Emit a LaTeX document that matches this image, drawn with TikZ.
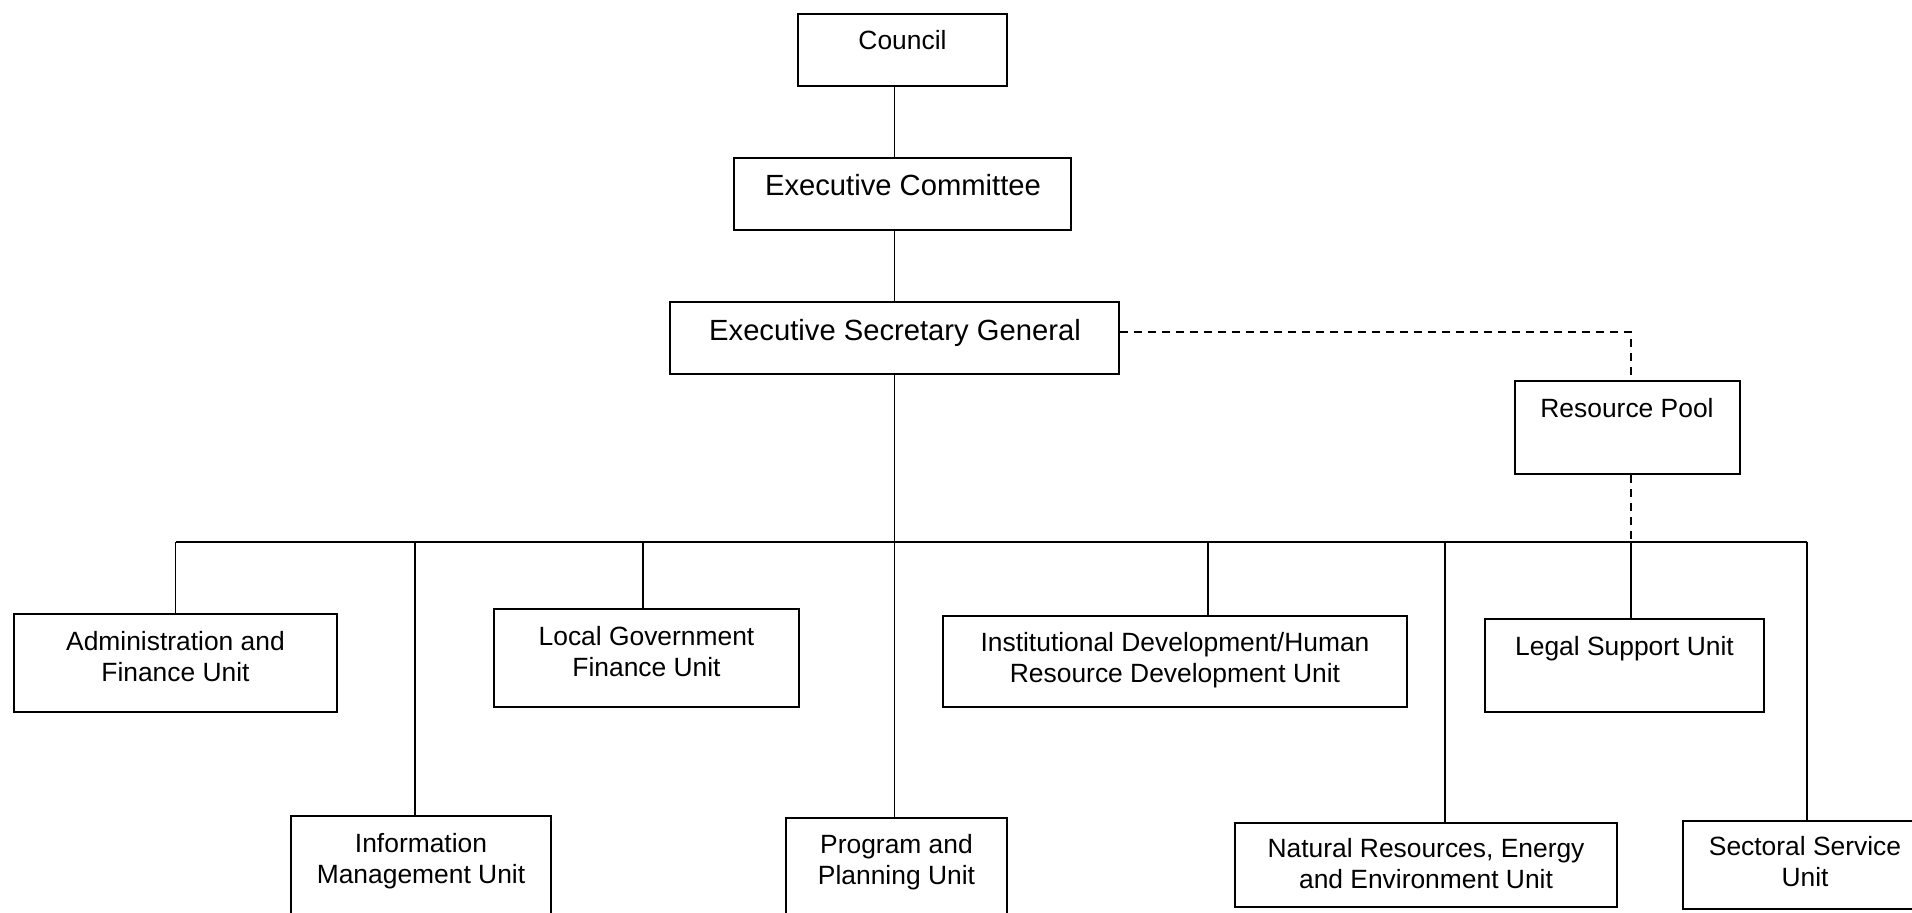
\documentclass[tikz,border=0pt]{standalone}
\usepackage{fontspec}
\setmainfont{Liberation Sans}
\newcommand{\orgunitfont}{\fontsize{13.2pt}{15.5pt}\selectfont}
\newcommand{\orgbigfont}{\fontsize{14.6pt}{17pt}\selectfont}
\newcommand{\twoline}[1]{\begin{tabular}[t]{@{}c@{}}#1\end{tabular}}
\newcommand{\orgbox}[5]{\node[box, minimum width={(#4-#2)*0.5pt}, minimum height={(#5-#3)*0.5pt}] (#1) at ({(#2+#4)/2},{(#3+#5)/2}) {};}
\begin{document}
\begin{tikzpicture}[x=0.5pt,y=-0.5pt,
  box/.style={draw, rectangle, line width=1.1pt, inner sep=0pt},
  lbl/.style={anchor=base, inner sep=0pt, font=\orgunitfont},
  conn/.style={line width=0.95pt},
  drop/.style={line width=0.9pt},
  dashline/.style={line width=1pt, dash pattern=on 4pt off 3pt}]
\useasboundingbox (0,0) rectangle (1912,912);
\fill[white] (0,0) rectangle (1912,912);
\clip (0,0) rectangle (1912,912);
% boxes
\orgbox{council}{798}{14}{1007}{86}
\orgbox{ec}{734}{158}{1071}{230}
\orgbox{esg}{670}{302}{1119}{374}
\orgbox{rp}{1515}{381}{1740}{474}
\orgbox{admin}{14}{614}{337}{712}
\orgbox{lgf}{494}{609}{799}{707}
\orgbox{id}{943}{616}{1407}{707}
\orgbox{legal}{1485}{619}{1764}{712}
\orgbox{info}{291}{816}{551}{935}
\orgbox{program}{786}{818}{1007}{935}
\orgbox{nr}{1235}{823}{1617}{907}
\orgbox{sectoral}{1683}{821}{1931}{909}
% labels
\node[lbl] (council-t) at (902.5,49) {Council};
\node[lbl,font=\orgbigfont] (ec-t) at (903,195) {Executive Committee};
\node[lbl,font=\orgbigfont] (esg-t) at (895,340) {Executive Secretary General};
\node[lbl] (rp-t) at (1627,417) {Resource Pool};
\node[lbl] (admin-t) at (175.5,650) {\twoline{Administration and\\Finance Unit}};
\node[lbl] (lgf-t) at (646.5,645) {\twoline{Local Government\\Finance Unit}};
\node[lbl] (id-t) at (1175,651) {\twoline{Institutional Development/Human\\Resource Development Unit}};
\node[lbl] (legal-t) at (1624.5,655) {Legal Support Unit};
\node[lbl] (info-t) at (421,852) {\twoline{Information\\Management Unit}};
\node[lbl] (program-t) at (896.5,853) {\twoline{Program and\\Planning Unit}};
\node[lbl] (nr-t) at (1426,857) {\twoline{Natural Resources, Energy\\and Environment Unit}};
\node[lbl] (sectoral-t) at (1805,855) {\twoline{Sectoral Service\\Unit}};
% connector points
\coordinate (busL) at (175.5,542);
\coordinate (busR) at (1807,542);
\coordinate (dInfo) at (415,542);
\coordinate (dLGF) at (643,542);
\coordinate (dID) at (1208,542);
\coordinate (dNR) at (1445,542);
\coordinate (dLegal) at (1631,542);
\coordinate (turn) at (1631,332);
% connectors
\draw[conn] (esg.north |- council.south) -- (esg.north |- ec.north);
\draw[conn] (esg.north |- ec.south) -- (esg.north);
\draw[conn] (esg.south) -- (esg.south |- program.north);
\draw[conn] (busL) -- (busR);
\draw[drop] (busL) -- (admin.north);
\draw[drop] (dInfo) -- (dInfo |- info.north);
\draw[drop] (dLGF) -- (dLGF |- lgf.north);
\draw[drop] (dID) -- (dID |- id.north);
\draw[drop] (dNR) -- (dNR |- nr.north);
\draw[drop] (dLegal) -- (dLegal |- legal.north);
\draw[drop] (busR) -- (busR |- sectoral.north);
\draw[dashline] (esg.east |- turn) -- (turn) -- (turn |- rp.north);
\draw[dashline] (turn |- rp.south) -- (dLegal);
\end{tikzpicture}
\end{document}
